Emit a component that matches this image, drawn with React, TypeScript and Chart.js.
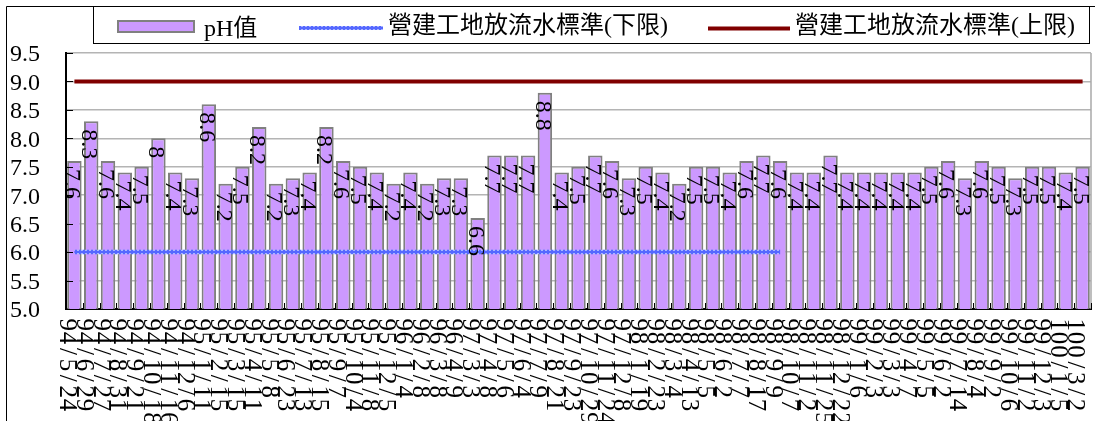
import React, { useEffect, useRef } from "react";
import { Chart, registerables } from "chart.js";

Chart.register(...registerables);

// ---- data ----
const categories: string[] = [
  "94/5/24", "94/6/29", "94/7/27", "94/8/31", "94/9/21", "94/10/18", "94/11/16", "94/12/6",
  "95/1/11", "95/2/15", "95/3/15", "95/4/11", "95/5/8", "95/6/23", "95/7/13", "95/8/15", "95/9/7", "95/10/4", "95/11/8", "95/12/5",
  "96/1/4", "96/2/8", "96/3/8", "96/4/9",
  "97/3/3", "97/4/8", "97/5/6", "97/6/4", "97/7/9", "97/8/21", "97/9/23", "97/10/29", "97/11/24", "97/12/8",
  "98/1/19", "98/2/23", "98/3/4", "98/4/13", "98/5/5", "98/6/2", "98/7/7", "98/8/17", "98/9/9", "98/10/7", "98/11/2", "98/11/25", "98/12/22",
  "99/1/6", "99/2/3", "99/3/3", "99/4/7", "99/5/5", "99/6/2", "99/7/14", "99/8/4", "99/9/2", "99/10/6", "99/11/2", "99/12/3",
  "100/1/5", "100/3/2",
];

const phValues: number[] = [
  7.6, 8.3, 7.6, 7.4, 7.5, 8, 7.4, 7.3,
  8.6, 7.2, 7.5, 8.2, 7.2, 7.3, 7.4, 8.2, 7.6, 7.5, 7.4, 7.2,
  7.4, 7.2, 7.3, 7.3,
  6.6, 7.7, 7.7, 7.7, 8.8, 7.4, 7.5, 7.7, 7.6, 7.3,
  7.5, 7.4, 7.2, 7.5, 7.5, 7.4, 7.6, 7.7, 7.6, 7.4, 7.4, 7.7, 7.4,
  7.4, 7.4, 7.4, 7.4, 7.5, 7.6, 7.3, 7.6, 7.5, 7.3, 7.5, 7.5,
  7.4, 7.5,
];

const lowerLimit: (number | null)[] = [
  6, 6, 6, 6, 6, 6, 6, 6, 6, 6,
  6, 6, 6, 6, 6, 6, 6, 6, 6, 6,
  6, 6, 6, 6, 6, 6, 6, 6, 6, 6,
  6, 6, 6, 6, 6, 6, 6, 6, 6, 6,
  6, 6, 6, null, null, null, null, null, null, null,
  null, null, null, null, null, null, null, null, null, null,
  null,
];

const upperLimit: number[] = [
  9, 9, 9, 9, 9, 9, 9, 9, 9, 9,
  9, 9, 9, 9, 9, 9, 9, 9, 9, 9,
  9, 9, 9, 9, 9, 9, 9, 9, 9, 9,
  9, 9, 9, 9, 9, 9, 9, 9, 9, 9,
  9, 9, 9, 9, 9, 9, 9, 9, 9, 9,
  9, 9, 9, 9, 9, 9, 9, 9, 9, 9,
  9,
];

const seriesNames: string[] = ["pH值", "營建工地放流水標準(下限)", "營建工地放流水標準(上限)"];
const yTicks: number[] = [5.0, 5.5, 6.0, 6.5, 7.0, 7.5, 8.0, 8.5, 9.0, 9.5];

const SERIF = "'Liberation Serif', 'Times New Roman', serif";
const LEGEND_FAMILY = "'Liberation Serif', 'Noto Sans CJK TC', serif";

function makeChainPattern(): CanvasPattern | string {
  const c = document.createElement("canvas");
  c.width = 4;
  c.height = 4;
  const g = c.getContext("2d");
  if (!g) return "#6677FF";
  g.fillStyle = "#5568ff";
  g.fillRect(0, 0, 4, 4);
  g.fillStyle = "#aab6ff";
  g.fillRect(1, 1, 2, 2);
  const p = g.createPattern(c, "repeat");
  return p || "#6677FF";
}

const decor = {
  id: "decor",
  afterDatasetsDraw(chart: any) {
    const ctx = chart.ctx;
    const meta = chart.getDatasetMeta(0);
    ctx.save();
    ctx.fillStyle = "#000";
    ctx.font = `24px ${SERIF}`;
    ctx.textAlign = "left";
    ctx.textBaseline = "alphabetic";
    meta.data.forEach((el: any, i: number) => {
      ctx.save();
      ctx.translate(el.x - 9, el.y + 8);
      ctx.rotate(Math.PI / 2);
      ctx.fillText(String(phValues[i]), 0, 0);
      ctx.restore();
    });
    ctx.restore();
  },
  afterDraw(chart: any) {
    const ctx = chart.ctx;
    const ca = chart.chartArea;
    const xs = chart.scales.x;
    const ys = chart.scales.y;
    const n = categories.length;
    ctx.save();

    // right border of plot area
    ctx.strokeStyle = "#a8a8a8";
    ctx.lineWidth = 1.5;
    ctx.beginPath();
    ctx.moveTo(ca.right, ca.top);
    ctx.lineTo(ca.right, ca.bottom);
    ctx.stroke();

    // inside tick marks
    ctx.strokeStyle = "#000";
    ctx.lineWidth = 1;
    ctx.beginPath();
    yTicks.forEach((v) => {
      const py = Math.round(ys.getPixelForValue(v)) + 0.5;
      ctx.moveTo(ca.left, py);
      ctx.lineTo(ca.left + 7, py);
    });
    for (let i = 0; i <= n; i++) {
      const px = Math.round(ca.left + (i * (ca.right - ca.left)) / n) + 0.5;
      ctx.moveTo(px, ca.bottom);
      ctx.lineTo(px, ca.bottom - 6);
    }
    ctx.stroke();

    // rotated category labels (top to bottom)
    ctx.fillStyle = "#000";
    ctx.font = `25px ${SERIF}`;
    ctx.textAlign = "left";
    ctx.textBaseline = "alphabetic";
    const adv = 13.4;
    categories.forEach((lab, i) => {
      const px = xs.getPixelForValue(i);
      ctx.save();
      ctx.translate(px - 14.5, 0);
      ctx.rotate(Math.PI / 2);
      for (let j = 0; j < lab.length; j++) {
        const ch = lab[j];
        const w = ctx.measureText(ch).width;
        ctx.fillText(ch, 318 + j * adv + (adv - w) / 2, 0);
      }
      ctx.restore();
    });

    // outer border (left and top)
    ctx.strokeStyle = "#000";
    ctx.lineWidth = 1;
    ctx.beginPath();
    ctx.moveTo(6.5, chart.height);
    ctx.lineTo(6.5, 6.5);
    ctx.lineTo(chart.width, 6.5);
    ctx.stroke();

    // legend box
    ctx.strokeRect(93.5, 6.5, 996, 37);
    const ds = chart.data.datasets;
    // item 1: bar swatch
    ctx.fillStyle = ds[0].backgroundColor;
    ctx.fillRect(117, 20, 78, 13);
    ctx.strokeStyle = ds[0].borderColor;
    ctx.lineWidth = 2;
    ctx.strokeRect(118, 21, 76, 11);
    ctx.fillStyle = "#000";
    ctx.font = `24px ${LEGEND_FAMILY}`;
    ctx.fillText(ds[0].label, 204, 36);
    // item 2: lower limit line
    ctx.strokeStyle = ds[1].borderColor;
    ctx.lineWidth = 4;
    ctx.beginPath();
    ctx.moveTo(299, 28);
    ctx.lineTo(383, 28);
    ctx.stroke();
    ctx.fillText(ds[1].label, 388, 33);
    // item 3: upper limit line
    ctx.strokeStyle = ds[2].borderColor;
    ctx.beginPath();
    ctx.moveTo(708, 28.5);
    ctx.lineTo(790, 28.5);
    ctx.stroke();
    ctx.fillText(ds[2].label, 795, 33);

    ctx.restore();
  },
};

export default function App() {
  const ref = useRef<HTMLCanvasElement | null>(null);

  useEffect(() => {
    if (!ref.current) return;
    const chain = makeChainPattern();
    const chart = new Chart(ref.current, {
      type: "bar",
      data: {
        labels: categories,
        datasets: [
          {
            type: "bar",
            label: seriesNames[0],
            data: phValues,
            backgroundColor: "#CC99FF",
            borderColor: "#808080",
            borderWidth: 2,
            borderSkipped: "start",
            categoryPercentage: 1,
            barPercentage: 0.86,
            order: 2,
          } as any,
          {
            type: "line",
            label: seriesNames[1],
            data: lowerLimit,
            borderColor: chain,
            borderWidth: 4.5,
            pointRadius: 0,
            fill: false,
            spanGaps: false,
            order: 1,
          } as any,
          {
            type: "line",
            label: seriesNames[2],
            data: upperLimit,
            borderColor: "#800000",
            borderWidth: 4,
            pointRadius: 0,
            fill: false,
            order: 0,
          } as any,
        ],
      },
      options: {
        responsive: false,
        animation: false,
        devicePixelRatio: 1,
        layout: { padding: { top: 53, left: 0, right: 4, bottom: 0 } },
        plugins: { legend: { display: false }, tooltip: { enabled: false } },
        scales: {
          x: {
            grid: { display: false, drawTicks: false },
            border: { display: true, color: "#000", width: 2 },
            ticks: { display: false },
            afterFit: (s: any) => {
              s.height = 112;
            },
          },
          y: {
            min: 5,
            max: 9.5,
            grid: { color: "#b4b4b4", lineWidth: 1.5, drawTicks: false },
            border: { display: true, color: "#000", width: 2 },
            afterBuildTicks: (s: any) => {
              s.ticks = yTicks.map((v) => ({ value: v }));
            },
            ticks: {
              autoSkip: false,
              color: "#000",
              font: { family: SERIF, size: 24 },
              padding: 26,
              labelOffset: 2,
              callback: (v: any) => Number(v).toFixed(1),
            },
            afterFit: (s: any) => {
              s.width = 66;
            },
          },
        },
      } as any,
      plugins: [decor],
    });
    return () => chart.destroy();
  }, []);

  return (
    <div style={{ position: "absolute", left: 0, top: 0, width: 1095, height: 421, background: "#fff" }}>
      <canvas ref={ref} width={1095} height={421} style={{ display: "block" }} />
    </div>
  );
}
